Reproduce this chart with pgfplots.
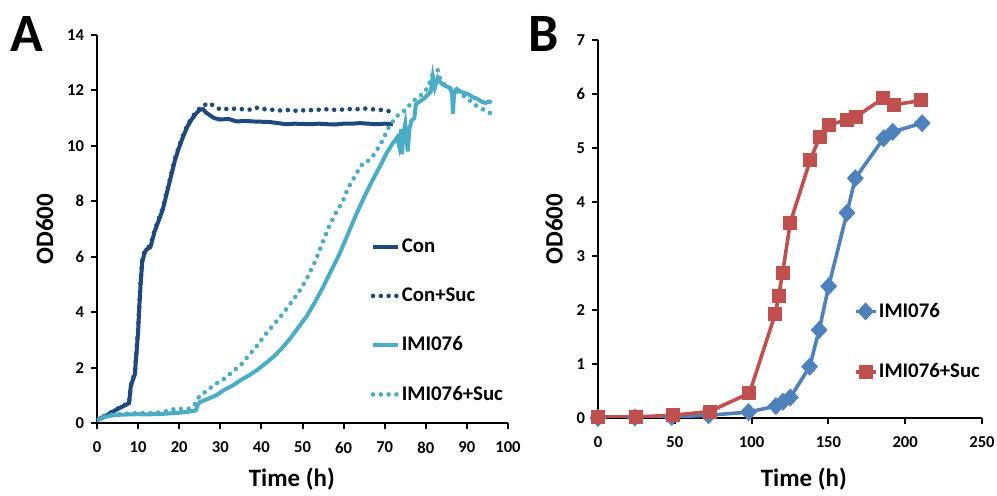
\documentclass[border=0pt]{standalone}
\usepackage{fontspec}
\setmainfont{Carlito}
\usepackage{pgfplots}
\pgfplotsset{compat=1.18}

\definecolor{darkblue}{RGB}{31,73,125}
\definecolor{lightblue}{RGB}{75,172,198}
\definecolor{midblue}{RGB}{79,129,189}
\definecolor{exred}{RGB}{192,80,77}

\pgfplotsset{
  panel/.style={
    scale only axis,
    axis x line*=bottom, axis y line*=left,
    axis line style={line width=1pt, black},
    tick align=outside, tick style={line width=1pt, black},
    major tick length=3pt,
    font=\bfseries\fontsize{8.3}{10}\selectfont,
    /pgf/number format/assume math mode=true,
    xticklabel style={yshift=-3pt},
    label style={font=\bfseries\fontsize{12.5}{14}\selectfont},
    legend cell align=left,
  },
  dotline/.style={line width=2.3pt, line cap=round, dash pattern=on 0pt off 3.9pt},
}

\begin{document}
\begin{tikzpicture}
\path[use as bounding box] (0pt,0pt) rectangle (498.5pt,248pt);

\node[font=\bfseries\fontsize{27}{30}\selectfont, anchor=base west, inner sep=0pt] at (5pt,222pt) {A};
\node[font=\bfseries\fontsize{27}{30}\selectfont, anchor=base west, inner sep=0pt] at (264pt,222pt) {B};

\begin{axis}[panel,
  at={(48.5pt,36.5pt)}, anchor=south west,
  width=205.5pt, height=194pt,
  xmin=0, xmax=100, ymin=0, ymax=14,
  xtick={0,10,...,100}, ytick={0,2,...,14},
  xlabel={Time (h)}, ylabel={OD600},
  xlabel style={at={(axis description cs:0.474,-0.144)}, anchor=center},
  legend style={at={(0.665,0.48)}, anchor=north west, draw=none, fill=none,
    font=\bfseries\fontsize{10.4}{12}\selectfont, row sep=14.5pt,
    inner sep=0pt, nodes={inner sep=0.8pt}},
  legend image code/.code={\draw[#1] (0pt,0pt) -- (12.5pt,0pt);},
]
\addplot[darkblue, line width=2pt] coordinates {
(0,0.1) (1,0.18) (2,0.25) (3,0.33) (4,0.42) (5,0.5) (6,0.58) (7,0.65) (7.8,0.72)
(8.2,1.3) (8.6,1.5) (9.2,1.75) (9.6,2.5) (10.0,3.3) (10.3,4.2) (10.6,5.0) (11,5.8)
(11.5,6.1) (12,6.25) (13,6.35) (14,6.9) (15,7.3) (16,7.7) (17,8.3) (18,8.9) (19,9.5)
(20,9.95) (21,10.35) (22,10.7) (23,10.95) (24,11.15) (25,11.3) (25.8,11.33) (26.5,11.2)
(27.5,11.1) (28.5,11.0) (30,10.95) (32,10.97) (34,10.88) (36,10.9) (38,10.88) (40,10.87)
(42,10.86) (44,10.82) (46,10.78) (48,10.8) (50,10.79) (52,10.78) (54,10.8) (56,10.78)
(58,10.77) (60,10.8) (62,10.8) (64,10.82) (66,10.8) (68,10.78) (70,10.8) (72,10.78)
};
\addlegendentry{Con}
\addplot[darkblue, dotline] coordinates {
(0,0.12) (1,0.2) (2,0.27) (3,0.35) (4,0.44) (5,0.52) (6,0.6) (7,0.67) (7.8,0.75)
(8.2,1.35) (8.6,1.55) (9.2,1.8) (9.6,2.6) (10.0,3.4) (10.3,4.3) (10.6,5.1) (11,5.9)
(11.5,6.15) (12,6.3) (13,6.4) (14,6.95) (15,7.35) (16,7.75) (17,8.35) (18,8.95) (19,9.55)
(20,10.0) (21,10.4) (22,10.75) (23,11.0) (24,11.2) (25,11.35) (25.8,11.45) (27.4,11.55)
(28.9,11.38) (30.5,11.3) (32,11.35) (34,11.33) (36,11.32) (38,11.3) (39,11.38) (41,11.32)
(43,11.3) (45,11.27) (47,11.3) (49,11.25) (51,11.3) (53,11.28) (55,11.33) (57,11.3)
(59,11.3) (61,11.33) (63,11.32) (65,11.35) (67,11.32) (69,11.3) (71,11.25) (72.5,11.32)
};
\addlegendentry{Con+Suc}
\addplot[lightblue, line width=2pt] coordinates {
(0,0.1) (2,0.22) (4,0.28) (6,0.3) (8,0.31) (10,0.32) (12,0.31) (14,0.32) (16,0.33)
(18,0.35) (20,0.37) (22,0.4) (24,0.45) (24.5,0.65) (25,0.75) (27,0.87) (29,1.0) (31,1.2)
(33,1.35) (35,1.55) (37,1.72) (39,1.92) (41,2.15) (43,2.4) (45,2.7) (47,3.05) (49,3.45)
(51,3.85) (53,4.35) (55,4.9) (57,5.5) (59,6.1) (61,6.8) (63,7.5) (65,8.15) (67,8.75)
(69,9.3) (70.5,9.75) (72,10.1) (73,10.3) (73.5,10.0) (74,10.6) (74.2,9.7) (74.6,10.5)
(75,10.8) (75.6,9.8) (76,10.6) (76.5,10.9) (77.2,11.0) (77.6,11.5) (78.5,11.6)
(79.5,11.7) (80.5,11.85) (81.2,11.95) (81.7,12.5) (82.2,12.1) (82.9,12.45) (83.5,12.3)
(84.2,12.2) (85,12.15) (85.8,12.1) (86.4,11.9) (86.6,11.15) (86.9,11.95) (87.5,12.05)
(88.5,11.95) (89.5,11.9) (90.5,11.85) (91.5,11.75) (92.5,11.7) (93.5,11.6) (94.5,11.55)
(95.5,11.6) (96,11.55)
};
\addlegendentry{IMI076}
\addplot[lightblue, dotline] coordinates {
(0,0.1) (2,0.25) (4,0.3) (6,0.33) (8,0.34) (10,0.36) (12,0.35) (14,0.36) (16,0.4)
(18,0.45) (19,0.52) (21,0.5) (22.5,0.52) (24,0.7) (24.8,0.94) (27,1.2) (29,1.42)
(31,1.6) (33,1.85) (35,2.1) (37,2.45) (39,2.8) (41,3.2) (43,3.55) (45,3.9) (47,4.3)
(49,4.7) (51,5.2) (53,5.8) (55,6.55) (56.5,7.1) (58,7.55) (59.8,8.0) (61,8.45)
(62.2,8.76) (63.5,9.1) (64.6,9.35) (65.5,9.4) (67,9.6) (68.5,9.95) (69.5,10.2)
(71.1,10.7) (72.8,11.05) (74,11.2) (75.2,11.3) (76.2,11.5) (77.2,11.65) (78.3,11.75)
(79.3,11.9) (80.5,12.1) (81.7,12.6) (82.9,12.73) (83.5,12.4) (84.2,12.25) (85.5,12.1)
(87.4,12.0) (88.5,11.85) (89.9,11.75) (91,11.6) (92.3,11.45) (93.5,11.35) (94.7,11.25)
(95.9,11.17)
};
\addlegendentry{IMI076+Suc}
\end{axis}

\begin{axis}[panel,
  at={(299pt,39pt)}, anchor=south west,
  width=192pt, height=189pt,
  xmin=0, xmax=250, ymin=0, ymax=7,
  xtick={0,50,...,250}, ytick={0,1,...,7},
  xlabel={Time (h)}, ylabel={OD600},
  xlabel style={at={(axis description cs:0.536,-0.163)}, anchor=center},
  legend style={at={(0.665,0.31)}, anchor=north west, draw=none, fill=none,
    font=\bfseries\fontsize{10.4}{12}\selectfont, row sep=20pt,
    inner sep=0pt, nodes={inner sep=0.8pt}},
  legend image code/.code={\draw[#1] (0pt,0pt) -- (10pt,0pt); \draw[#1, mark repeat=1] plot coordinates {(5pt,0pt)};},
]
\addplot[midblue, line width=1.8pt, mark=diamond*, mark size=3.2pt, mark options={solid, xscale=1.25}] coordinates {
(0,0.0) (24,0.01) (48,0.02) (72,0.05) (98,0.11) (115.8,0.22) (120.4,0.3) (125.2,0.38)
(137.8,0.95) (144,1.63) (150.2,2.44) (162.1,3.8) (167.5,4.44) (186,5.18) (191.9,5.3)
(211,5.46)
};
\addlegendentry{IMI076}
\addplot[exred, line width=1.8pt, mark=square*, mark size=2.6pt, mark options={solid}] coordinates {
(0,0.02) (24.8,0.02) (48.7,0.05) (72.6,0.12) (98.6,0.46) (115.4,1.93) (117.6,2.25)
(120.2,2.69) (125.2,3.62) (138.2,4.78) (144.3,5.2) (150.2,5.43) (162.1,5.52) (168,5.58)
(185.6,5.92) (192.5,5.8) (210.6,5.88)
};
\addlegendentry{IMI076+Suc}
\end{axis}
\end{tikzpicture}
\end{document}
